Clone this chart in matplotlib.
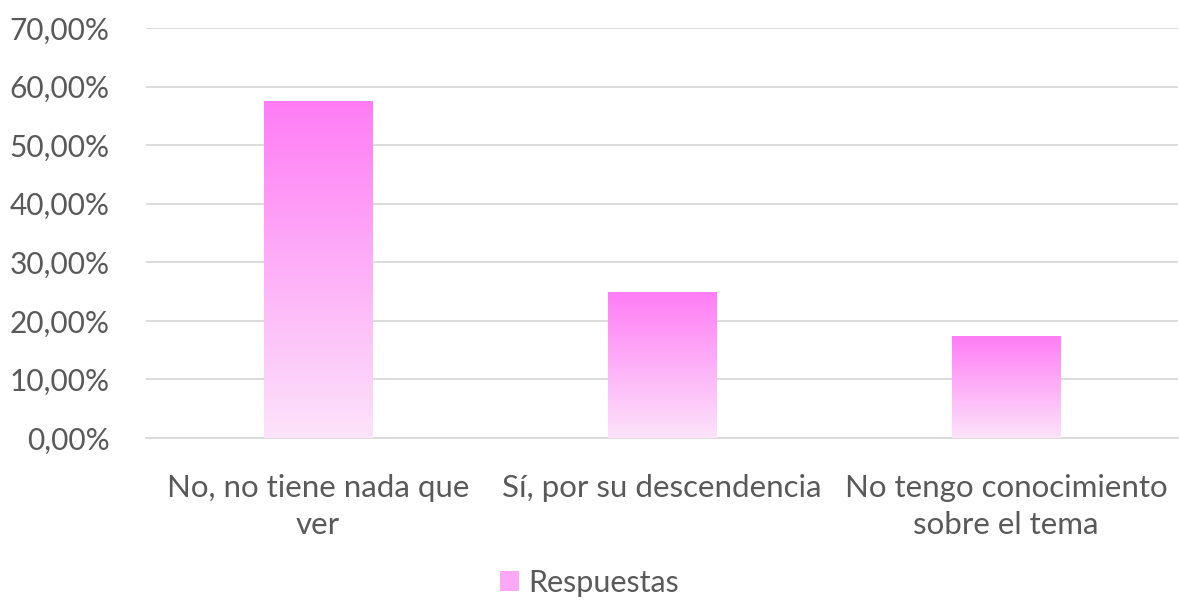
import matplotlib
matplotlib.use("Agg")
import matplotlib.pyplot as plt
import numpy as np
from matplotlib.colors import LinearSegmentedColormap
from matplotlib.patches import Rectangle

categories = ["No, no tiene nada que\nver", "Sí, por su descendencia", "No tengo conocimiento\nsobre el tema"]
values = [57.5, 25.0, 17.5]
yticks = [0, 10, 20, 30, 40, 50, 60, 70]
ytick_labels = ["0,00%", "10,00%", "20,00%", "30,00%", "40,00%", "50,00%", "60,00%", "70,00%"]
series_name = "Respuestas"

plt.rcParams['font.family'] = ['Lato', 'DejaVu Sans']
txt = "#595959"

fig = plt.figure(figsize=(11.79, 6.07), dpi=100)
ax = fig.add_axes([0.1238, 0.2784, 0.8755, 0.6755])

cmap = LinearSegmentedColormap.from_list("pinkgrad", ["#FCE3FA", "#FF7CF5"])
grad = np.linspace(0, 1, 256).reshape(-1, 1)

x = np.arange(len(categories))
bars = ax.bar(x, values, width=0.315, color="none", edgecolor="none", zorder=3)
for b in bars:
    x0, y0 = b.get_x(), b.get_y()
    w, h = b.get_width(), b.get_height()
    im = ax.imshow(grad, cmap=cmap, origin="lower", aspect="auto",
                   extent=[x0, x0 + w, y0, y0 + h], zorder=3)
    im.set_clip_path(b)

ax.set_xlim(-0.5, 2.5)
ax.set_ylim(0, 70)
ax.set_yticks(yticks)
ax.set_yticklabels(ytick_labels)
ax.set_xticks(x)
ax.set_xticklabels(categories, linespacing=1.38)
ax.yaxis.grid(True, color="#D9D9D9", linewidth=1.3, zorder=0)
ax.set_axisbelow(True)
for s in ["top", "right", "left"]:
    ax.spines[s].set_visible(False)
ax.spines["bottom"].set_color("#D9D9D9")
ax.spines["bottom"].set_linewidth(1.3)
ax.tick_params(axis="y", length=0, labelsize=21.5, colors=txt, pad=26)
ax.tick_params(axis="x", length=0, labelsize=22.5, colors=txt, pad=26)

handle = Rectangle((0, 0), 1, 1, facecolor="#FCA8F6", edgecolor="none")
leg = fig.legend([handle], [series_name], loc="center", bbox_to_anchor=(0.5, 0.04),
                 frameon=False, fontsize=22, handlelength=0.6, handleheight=0.6,
                 handletextpad=0.3)
for t in leg.get_texts():
    t.set_color(txt)

fig.savefig("out.png", dpi=100)
